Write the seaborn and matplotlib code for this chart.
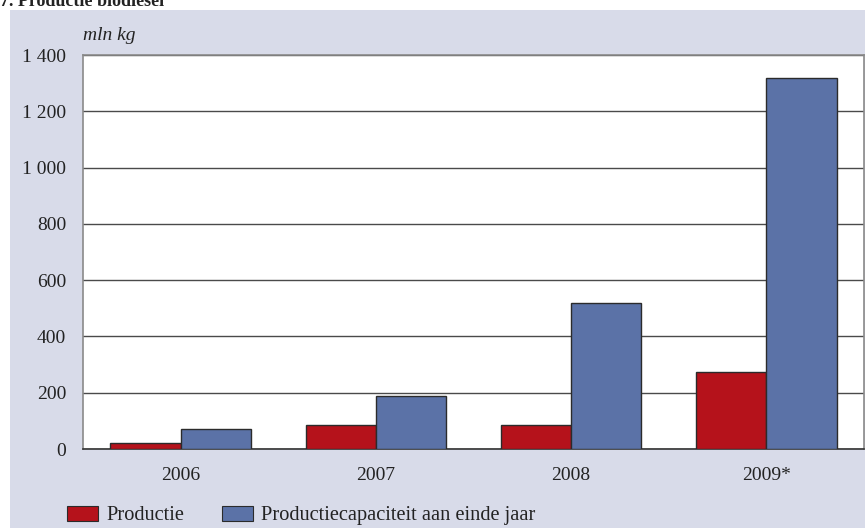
import matplotlib
matplotlib.use("Agg")
import matplotlib.pyplot as plt
import matplotlib.patches as mpatches
import seaborn as sns
import pandas as pd

# data (mln kg)
years = ["2006", "2007", "2008", "2009*"]
productie = [20, 85, 85, 275]
capaciteit = [70, 190, 520, 1320]
series_names = ["Productie", "Productiecapaciteit aan einde jaar"]
yticks = [0, 200, 400, 600, 800, 1000, 1200, 1400]
ytick_labels = ["0", "200", "400", "600", "800", "1 000", "1 200", "1 400"]

df = pd.DataFrame({
    "jaar": years * 2,
    "waarde": productie + capaciteit,
    "reeks": [series_names[0]] * 4 + [series_names[1]] * 4,
})

sns.set_style("white")
plt.rcParams["font.family"] = ["Liberation Serif", "DejaVu Serif"]

RED = "#b5121b"
BLUE = "#5b72a7"
PANEL = "#d8dbe9"
GRID = "#4a4a4a"
TXT = "#222222"

fig = plt.figure(figsize=(8.65, 5.28), dpi=100)
fig.patch.set_facecolor("white")
fig.patches.append(mpatches.Rectangle((10 / 865, 0), 1, 1 - 10 / 528, transform=fig.transFigure,
                                      facecolor=PANEL, edgecolor="none", zorder=-10))

ax = fig.add_axes([83 / 865, 1 - 449 / 528, (864 - 83) / 865, (449 - 55) / 528])
ax.set_facecolor("white")

sns.barplot(data=df, x="jaar", y="waarde", hue="reeks", palette=[RED, BLUE],
            saturation=1, width=0.72, gap=0, edgecolor="#2b2b2b", linewidth=1.0,
            ax=ax, legend=False, zorder=3)

ax.set_ylim(0, 1400)
ax.set_yticks(yticks)
ax.set_yticklabels(ytick_labels)
ax.yaxis.grid(True, color=GRID, linewidth=1.0, zorder=0)
ax.set_axisbelow(True)
ax.tick_params(axis="y", length=4, width=1, color="#666666", labelsize=14, pad=8, labelcolor=TXT)
ax.tick_params(axis="x", length=0, labelsize=14, pad=13, labelcolor=TXT)
ax.set_xlabel("")
ax.set_ylabel("")
for side in ["left", "top", "right"]:
    ax.spines[side].set_color("#8a8a8a")
    ax.spines[side].set_linewidth(1.2)
ax.spines["bottom"].set_color("#333333")
ax.spines["bottom"].set_linewidth(1.2)

fig.text(83 / 865, 1 - 35 / 528, "mln kg", style="italic", fontsize=14,
         ha="left", va="center", color=TXT)
# title is cropped at the top edge in the reference
fig.text(0.0, 1 - 1 / 528, "7. Productie biodiesel", fontweight="bold", fontsize=13,
         ha="left", va="center", color=TXT)

handles = [mpatches.Patch(facecolor=RED, edgecolor="#2b2b2b", linewidth=0.8),
           mpatches.Patch(facecolor=BLUE, edgecolor="#2b2b2b", linewidth=0.8)]
fig.legend(handles, series_names, loc="center left",
           bbox_to_anchor=(67 / 865, 1 - 515.5 / 528),
           ncol=2, frameon=False, fontsize=14.7, handlelength=1.52, handleheight=0.74,
           handletextpad=0.39, columnspacing=1.86, borderpad=0, borderaxespad=0,
           labelcolor=TXT)

fig.savefig("out.png", dpi=100, facecolor=fig.get_facecolor())
